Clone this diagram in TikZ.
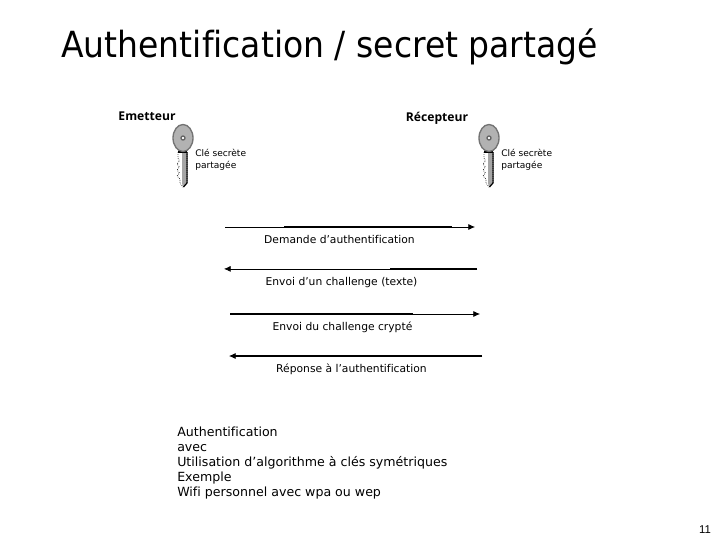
\documentclass[tikz,border=0pt]{standalone}
\usepackage{fontspec}
\setmainfont[Ligatures=NoCommon]{DejaVu Sans}
\newfontfamily\titlefont[FakeStretch=0.917,Ligatures=NoCommon]{DejaVu Sans}
\newfontfamily\numfont{Liberation Sans}
\newfontfamily\boldfont{Open Sans Bold}
\usetikzlibrary{arrows.meta}
\tikzset{
	msg/.style = {draw=black, line width=0.5pt, -{Latex[length=5pt,width=4.5pt]}},
	msgthick/.style = {draw=black, line width=1.3pt},
	keybody/.style = {draw=black!55, fill=black!30, line width=1pt},
	lbl/.style = {inner sep=0pt, font=\fontsize{8.05}{10}\selectfont},
	keylbl/.style = {inner sep=0pt, align=left, anchor=west, font=\fontsize{6.8}{9}\selectfont},
	who/.style = {inner sep=0pt, font=\boldfont\fontsize{9.1}{11}\selectfont}
}
\newcommand{\keyshape}[2]{
	\begin{scope}[shift={(#1,#2)}]
		\draw [black, fill=white, line width=0.5pt, densely dotted] (-5,14) -- (-5,20) -- (-3.5,23) -- (-6,26) -- (-3.5,29) -- (-6,32) -- (-3.5,35) -- (-6,38) -- (-3,41) -- (-3,45) -- (0,49) -- (4,45) -- (4,14) -- cycle;
		\fill [black!35] (-1,14) rectangle (3.2,45) -- (3.2,45) -- (0,49) -- (-1,45) -- cycle;
		\draw [black, line width=0.9pt] (4,14) -- (4,45) -- (0.5,49);
		\draw [black, line width=0.9pt] (-5,14) -- (4,14);
		\draw [keybody] (0,0) ellipse (10 and 13.5);
		\draw [black!60, fill=white, line width=1pt] (0,0) circle (2);
	\end{scope}
}
\begin{document}
\begin{tikzpicture}[x=0.75pt,y=-0.75pt]
	\useasboundingbox (0,0) rectangle (720,540);
	\node [inner sep=0pt, anchor=base west, font=\titlefont\fontsize{27}{30}\selectfont] (title) at (61,57) {Authentification / secret partagé};
	\node [who] (emetteur) at (147,116) {Emetteur};
	\node [who] (recepteur) at (437,118) {Récepteur};
	\keyshape{183}{138}
	\keyshape{489}{138}
	\node [keylbl] (cleA) at (195,160) {Clé secrète\\partagée};
	\node [keylbl] (cleB) at (501,160) {Clé secrète\\partagée};
	% demande
	\coordinate (a1) at (225,227); \coordinate (a2) at (475,227);
	\coordinate (a3) at (284,226.6); \coordinate (a4) at (452,226.6);
	\draw [msg] (a1) -- (a2);
	\draw [msgthick] (a3) -- (a4);
	\node [lbl] (demande) at (339.5,239.5) {Demande d’authentification};
	% challenge
	\coordinate (b1) at (477,268.9); \coordinate (b2) at (224,268.9);
	\coordinate (b3) at (390,268.9);
	\draw [msg] (b1) -- (b2);
	\draw [msgthick] (b1) -- (b3);
	\node [lbl] (challenge) at (341.5,283) {Envoi d’un challenge (texte)};
	% crypte
	\coordinate (c1) at (230,314); \coordinate (c2) at (480,314);
	\coordinate (c3) at (413,314);
	\draw [msg] (c1) -- (c2);
	\draw [msgthick] (c1) -- (c3);
	\node [lbl] (crypte) at (342.5,327) {Envoi du challenge crypté};
	% reponse
	\coordinate (d1) at (482,356); \coordinate (d2) at (229,356);
	\coordinate (d3) at (232,356);
	\draw [msg] (d1) -- (d2);
	\draw [msgthick] (d1) -- (d3);
	\node [lbl] (reponse) at (351.5,369) {Réponse à l’authentification};
	\node [inner sep=0pt, anchor=north west, align=left, font=\fontsize{9.45}{11.25}\selectfont] (texte) at (177,427) {Authentification\\avec\\Utilisation d’algorithme à clés symétriques\\Exemple\\Wifi personnel avec wpa ou wep};
	\node [inner sep=0pt, font=\numfont\fontsize{8.5}{10}\selectfont] (page) at (705,530) {11};
\end{tikzpicture}
\end{document}
